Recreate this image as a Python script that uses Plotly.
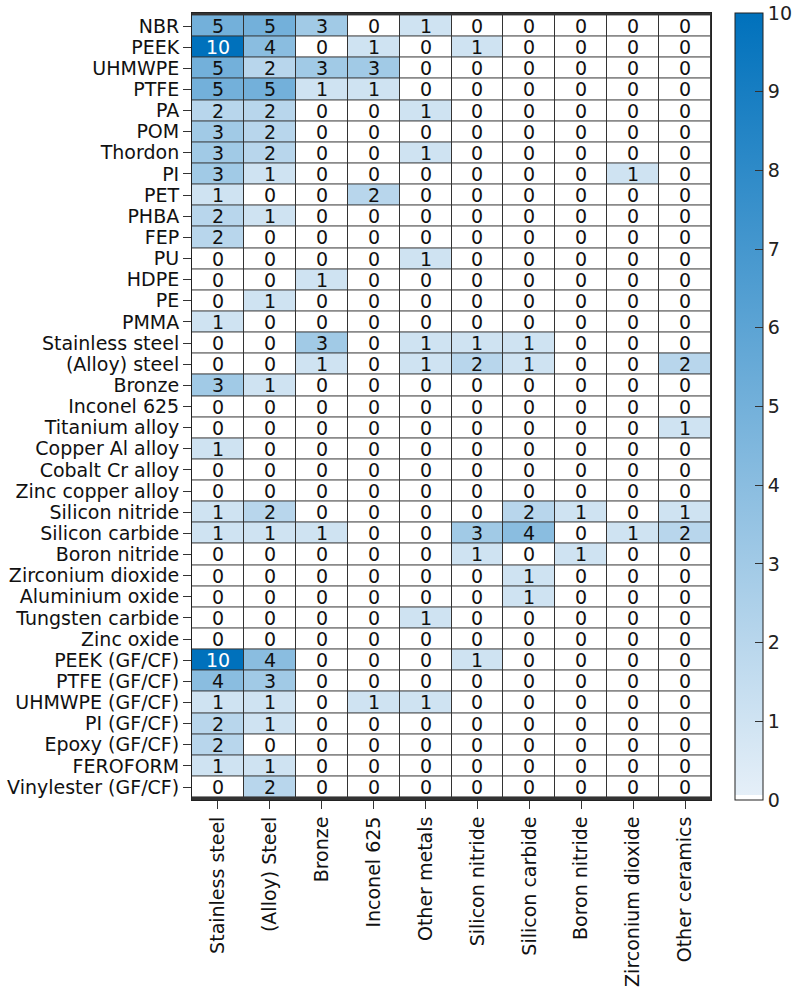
import plotly.graph_objects as go

rows = ["NBR", "PEEK", "UHMWPE", "PTFE", "PA", "POM", "Thordon", "PI", "PET", "PHBA",
        "FEP", "PU", "HDPE", "PE", "PMMA", "Stainless steel", "(Alloy) steel", "Bronze",
        "Inconel 625", "Titanium alloy", "Copper Al alloy", "Cobalt Cr alloy",
        "Zinc copper alloy", "Silicon nitride", "Silicon carbide", "Boron nitride",
        "Zirconium dioxide", "Aluminium oxide", "Tungsten carbide", "Zinc oxide",
        "PEEK (GF/CF)", "PTFE (GF/CF)", "UHMWPE (GF/CF)", "PI (GF/CF)", "Epoxy (GF/CF)",
        "FEROFORM", "Vinylester (GF/CF)"]

cols = ["Stainless steel", "(Alloy) Steel", "Bronze", "Inconel 625", "Other metals",
        "Silicon nitride", "Silicon carbide", "Boron nitride", "Zirconium dioxide",
        "Other ceramics"]

counts = [
    [5, 5, 3, 0, 1, 0, 0, 0, 0, 0],
    [10, 4, 0, 1, 0, 1, 0, 0, 0, 0],
    [5, 2, 3, 3, 0, 0, 0, 0, 0, 0],
    [5, 5, 1, 1, 0, 0, 0, 0, 0, 0],
    [2, 2, 0, 0, 1, 0, 0, 0, 0, 0],
    [3, 2, 0, 0, 0, 0, 0, 0, 0, 0],
    [3, 2, 0, 0, 1, 0, 0, 0, 0, 0],
    [3, 1, 0, 0, 0, 0, 0, 0, 1, 0],
    [1, 0, 0, 2, 0, 0, 0, 0, 0, 0],
    [2, 1, 0, 0, 0, 0, 0, 0, 0, 0],
    [2, 0, 0, 0, 0, 0, 0, 0, 0, 0],
    [0, 0, 0, 0, 1, 0, 0, 0, 0, 0],
    [0, 0, 1, 0, 0, 0, 0, 0, 0, 0],
    [0, 1, 0, 0, 0, 0, 0, 0, 0, 0],
    [1, 0, 0, 0, 0, 0, 0, 0, 0, 0],
    [0, 0, 3, 0, 1, 1, 1, 0, 0, 0],
    [0, 0, 1, 0, 1, 2, 1, 0, 0, 2],
    [3, 1, 0, 0, 0, 0, 0, 0, 0, 0],
    [0, 0, 0, 0, 0, 0, 0, 0, 0, 0],
    [0, 0, 0, 0, 0, 0, 0, 0, 0, 1],
    [1, 0, 0, 0, 0, 0, 0, 0, 0, 0],
    [0, 0, 0, 0, 0, 0, 0, 0, 0, 0],
    [0, 0, 0, 0, 0, 0, 0, 0, 0, 0],
    [1, 2, 0, 0, 0, 0, 2, 1, 0, 1],
    [1, 1, 1, 0, 0, 3, 4, 0, 1, 2],
    [0, 0, 0, 0, 0, 1, 0, 1, 0, 0],
    [0, 0, 0, 0, 0, 0, 1, 0, 0, 0],
    [0, 0, 0, 0, 0, 0, 1, 0, 0, 0],
    [0, 0, 0, 0, 1, 0, 0, 0, 0, 0],
    [0, 0, 0, 0, 0, 0, 0, 0, 0, 0],
    [10, 4, 0, 0, 0, 1, 0, 0, 0, 0],
    [4, 3, 0, 0, 0, 0, 0, 0, 0, 0],
    [1, 1, 0, 1, 1, 0, 0, 0, 0, 0],
    [2, 1, 0, 0, 0, 0, 0, 0, 0, 0],
    [2, 0, 0, 0, 0, 0, 0, 0, 0, 0],
    [1, 1, 0, 0, 0, 0, 0, 0, 0, 0],
    [0, 2, 0, 0, 0, 0, 0, 0, 0, 0],
]

cbar_ticks = list(range(0, 11))

FONT = "DejaVu Sans"
FS = 19

colorscale = [[0.0, "rgb(255,255,255)"], [0.006, "rgb(255,255,255)"],
              [0.0061, "rgb(229,239,248)"], [1.0, "rgb(0,113,188)"]]

fig = go.Figure(go.Heatmap(
    z=counts, x=cols, y=rows,
    zmin=0, zmax=10,
    colorscale=colorscale,
    xgap=1, ygap=1,
    colorbar=dict(
        x=1.046, xanchor="left",
        y=0.5, yanchor="middle", len=1.0, lenmode="fraction",
        thickness=28, thicknessmode="pixels",
        outlinewidth=1, outlinecolor="#222",
        tickmode="array", tickvals=cbar_ticks,
        ticks="inside", ticklen=8, tickcolor="#333", tickwidth=1,
        tickfont=dict(family=FONT, size=FS, color="#222"),
        ypad=0, xpad=0,
    ),
    hoverinfo="skip",
))

annotations = []
for i, r in enumerate(rows):
    for j, c in enumerate(cols):
        v = counts[i][j]
        annotations.append(dict(
            x=c, y=r, text=str(v), showarrow=False,
            font=dict(family=FONT, size=FS, color="white" if v >= 8 else "#111"),
            xref="x", yref="y",
        ))

fig.update_layout(
    width=792, height=990,
    margin=dict(l=192, r=81, t=13, b=190, autoexpand=False),
    paper_bgcolor="white",
    plot_bgcolor="#333",
    font=dict(family=FONT, size=FS, color="#111"),
    annotations=annotations,
    xaxis=dict(
        side="bottom", tickangle=-90, ticks="outside", ticklen=8, tickcolor="#333",
        tickmode="array", tickvals=cols, ticktext=cols,
        tickfont=dict(family=FONT, size=FS), showgrid=False, zeroline=False,
        showline=True, linecolor="#222", linewidth=1, mirror=True,
    ),
    yaxis=dict(
        autorange="reversed", ticks="outside", ticklen=8, tickcolor="#333",
        tickmode="array", tickvals=rows, ticktext=rows,
        tickfont=dict(family=FONT, size=FS), showgrid=False, zeroline=False,
        showline=True, linecolor="#222", linewidth=1, mirror=True,
    ),
)

fig.write_html("out.html")
